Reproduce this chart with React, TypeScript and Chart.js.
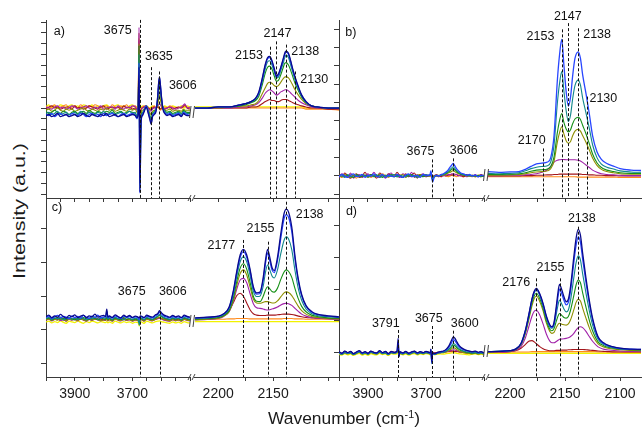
import React, { useEffect, useRef } from 'react';
import { Chart, registerables } from 'chart.js';

Chart.register(...registerables);

const FONT = '"Liberation Sans", Arial, Helvetica, sans-serif';
const AX = '#3a3a3a';

const COLORS: Record<string, string> = {
  navy: '#0a0a8c', blue: '#2846ff', teal: '#11878a', green: '#159015', olive: '#8f8f00',
  purple: '#a020a8', maroon: '#a3151b', orange: '#ff8a1c', yellow: '#f2f200',
};
const WIDTHS: Record<string, number> = {
  navy: 1.3, blue: 1.3, teal: 1.1, green: 1.1, olive: 1.1, purple: 1.1, maroon: 1.1, orange: 1.1, yellow: 1.3,
};

// ---------------- Panel a ----------------
const A1X = [4000,3990,3980,3970,3960,3950,3940,3930,3920,3910,3900,3890,3880,3870,3860,3850,3840,3830,3820,3810,3800,3790,3780,3770,3760,3750,3740,3730,3720,3710,3700,3690,
  3684,3680,3677,3674,3670,3665,3660,3652,3645,3640,3635,3630,3624,3618,3613,3609,3606,3603,3599,3594,3588,3580,3570,3560,3550,3540,3530,3522,3518,3510,3500];
const A1_NAVY = [-7,-6,-8,-7,-5,-8,-7,-6,-8,-7,-6,-8,-7,-5,-7,-8,-6,-7,-8,-6,-7,-5,-8,-7,-6,-8,-7,-6,-8,-7,-6,-7,
  -9,-5,38,-78,-13,-7,-4,1,-5,-10,-15,-8,-6,-3,8,23,29,22,10,-1,-5,-7,-6,-8,-7,-6,-8,-5,-6,-7,-7];
const A1_BLUE = [-6,-7,-5,-8,-6,-5,-7,-6,-8,-5,-6,-7,-5,-6,-8,-6,-5,-7,-6,-8,-5,-7,-6,-5,-7,-8,-6,-5,-7,-6,-5,-7,
  -10,-4,42,-79,-12,-6,-3,2,-4,-9,-14,-7,-5,-2,8,22,28,22,10,0,-4,-6,-5,-7,-6,-5,-7,-4,-5,-6,-7];
const A1_TEAL = [-5,-4,-6,-5,-3,-6,-5,-4,-6,-5,-4,-6,-3,-5,-6,-4,-5,-6,-4,-5,-3,-6,-5,-4,-6,-5,-4,-6,-5,-3,-5,-4,
  -8,-3,50,-75,-10,-5,-3,2,-3,-8,-12,-6,-4,-1,7,20,26,20,9,0,-3,-5,-4,-6,-5,-4,-6,-3,-4,-5,-5];
const A1_GREEN = [-3,-5,-4,-2,-4,-5,-3,-4,-6,-4,-3,-5,-4,-3,-5,-2,-4,-5,-3,-4,-5,-3,-4,-2,-5,-4,-3,-5,-4,-3,-4,-5,
  -7,-2,58,-70,-8,-4,-2,2,-3,-6,-10,-5,-3,-1,5,16,22,16,7,0,-2,-4,-3,-5,-4,-3,-5,-2,-3,-4,-4];
const A1_OLIVE = [-2,-1,-3,-2,0,-2,-3,-1,-2,-1,-3,-2,-1,0,-2,-3,-1,-2,-3,-1,-2,0,-2,-1,-3,-2,-1,-2,-3,-1,-2,-1,
  -4,-1,60,-60,-5,-2,-1,1,-2,-4,-6,-3,-2,-1,2,8,12,8,3,-1,-2,-2,-1,-3,-2,-2,-3,-1,-2,-2,-2];
const A1_PURPLE = [1,0,-1,1,2,0,1,-1,0,2,1,-1,0,1,2,0,-1,1,0,2,-1,0,1,1,-1,2,0,-1,1,0,2,1,
  -2,1,75,-50,-3,0,1,2,0,-2,-3,-1,0,1,2,3,4,3,1,0,-1,0,1,0,-1,0,1,3,4,0,1];
const A1_MAROON = [-1,1,2,0,1,-1,0,1,1,-1,2,0,1,-1,0,2,1,0,-1,1,2,-1,0,1,0,1,-1,2,0,1,-1,0,
  -1,1,70,-40,-2,0,1,2,0,-1,-2,0,1,0,1,1,0,-1,0,1,-1,0,1,-1,0,1,0,2,3,0,-1];
const A1_ORANGE = [2,0,1,3,0,1,2,3,0,1,2,0,3,1,0,2,1,3,2,0,1,2,0,3,1,0,2,1,3,0,1,2,
  0,1,63,-30,-1,1,2,1,0,-1,0,1,2,0,1,0,-1,-2,-1,0,1,0,2,1,0,1,0,1,2,1,0];
const A1_YELLOW = [1,3,0,2,1,3,2,0,2,3,1,2,0,3,2,1,3,0,2,1,2,3,1,0,2,3,1,2,0,2,3,1,
  1,2,65,-25,0,2,1,2,1,0,1,2,1,0,2,1,0,-1,0,1,2,1,0,2,1,0,2,1,0,2,1];

const A2X = [2221,2210,2200,2190,2180,2175,2170,2166,2163,2160,2157,2155,2153,2151,2149,2147,2145,2143,2141,2139,2138,2136,2134,2132,2130,2127,2124,2120,2115,2110,2100,2090];
const A2_NAVY = [0,0,1,1,3,4,6,9,15,27,41,47,48,44,37,30,32,38,45,52,53,51,44,36,29,20,12,6,2,1,0,0];
const A2_BLUE = [0,0,1,1,3,4,6,9,14,26,40,46,47,43,36,29,31,37,44,51,52,50,43,35,28,19,12,6,2,1,0,0];
const A2_TEAL = [0,0,1,1,3,4,6,8,13,24,37,43,44,40,34,28,29,35,41,48,49,47,40,33,26,18,11,5,2,1,0,0];
const A2_GREEN = [0,0,1,1,2,3,5,7,11,21,33,38,39,36,30,25,26,31,37,42,42,40,35,29,23,16,10,5,2,1,0,0];
const A2_OLIVE = [0,0,0,1,2,2,3,4,7,13,19,23,24,23,21,20,21,24,27,29,29,28,25,21,17,12,8,4,2,1,0,0];
const A2_PURPLE = [0,0,0,0,1,1,2,3,5,9,14,16,17,16,14,12,13,15,16,17,17,16,14,12,10,7,5,3,1,0,0,0];
const A2_MAROON = [0,0,0,0,0,0,1,1,2,4,6,7,8,7,7,6,6,7,8,8,8,7,6,5,4,3,2,1,0,0,-1,-1];
const A2_ORANGE = [0,0,0,0,0,0,0,0,0,0,0,0,0,0,0,0,0,0,0,0,0,0,0,0,0,0,0,-1,-1,-1,-1,-2];
const A2_YELLOW = [1,1,1,1,1,1,1,1,1,1,1,1,1,1,1,1,1,1,1,1,1,1,1,1,1,1,1,0,0,0,0,0];

// ---------------- Panel b ----------------
const B1X = [4000,3990,3980,3970,3960,3950,3940,3930,3920,3910,3900,3890,3880,3870,3860,3850,3840,3830,3820,3810,3800,3790,3780,3770,3760,3750,3740,3730,3720,3710,3700,
  3692,3686,3683,3680,3677,3672,3664,3656,3648,3640,3632,3624,3617,3611,3606,3601,3595,3588,3580,3570,3560,3550,3540,3530,3520,3510,3500];
const B1_BLUE = [-2,4,0,-4,2,6,-2,0,4,-4,2,0,6,-2,0,4,-4,2,0,-2,4,0,-4,2,6,-2,0,2,-4,4,2,
  2,4,14,-6,-16,-4,2,0,4,6,10,16,24,30,34,28,20,14,8,6,2,4,0,2,-2,2,0];
const B1_TEAL = [2,0,-4,4,-2,0,2,-2,4,0,-2,2,0,4,-4,0,2,-2,0,4,-2,2,0,-2,4,0,2,-4,0,2,0,
  0,2,10,-4,-12,-2,2,0,2,4,8,12,18,22,25,21,15,10,6,4,2,2,0,2,-2,0,2];
const B1_GREEN = [0,4,-2,2,0,-4,4,0,-2,2,0,4,-2,0,2,-4,2,0,4,-2,2,0,-4,2,0,4,-2,0,2,-2,4,
  2,2,8,-2,-10,-2,0,2,2,4,6,10,14,18,20,17,12,8,5,2,2,0,2,0,2,-2,0];
const B1_OLIVE = [2,-2,4,0,-4,2,0,-2,4,2,-4,0,2,-2,4,0,-2,2,0,4,-2,0,4,-4,2,0,-2,2,4,0,2,
  0,2,6,-2,-8,0,2,0,2,2,4,8,10,13,15,12,9,6,4,2,0,2,0,-2,2,0,2];
const B1_PURPLE = [-4,6,0,-2,8,-6,2,4,-4,0,6,-2,10,0,-4,2,-6,4,8,-2,0,-4,6,2,-2,10,-4,0,2,6,0,
  2,0,4,0,-4,2,0,-2,4,0,2,4,4,6,6,5,4,2,0,4,-2,2,0,4,-2,2,0];
const B1_MAROON = [4,-2,8,0,-6,2,6,-4,0,10,-2,4,0,-6,8,2,-4,6,0,-2,10,0,-4,6,-2,2,8,-6,4,0,-2,
  0,2,2,0,-2,0,4,0,-2,2,0,2,3,3,3,2,4,0,2,-2,4,0,2,-2,0,4,0];
const B1_ORANGE = [0,-4,2,-2,4,0,-6,2,-2,0,4,-4,0,2,-2,6,0,-4,2,0,-2,4,-4,0,2,-2,0,4,-2,2,0,
  0,-2,0,2,-2,0,2,-2,0,2,0,-2,0,2,0,0,-2,2,0,-2,0,2,-2,0,2,-2,0];

const B2X = [2220,2210,2200,2192,2186,2181,2176,2171,2166,2163,2160,2157,2155,2153,2151,2149,2147,2145,2143,2141,2138,2136,2134,2131,2128,2125,2121,2117,2112,2106,2100,2090,2081];
const B2_BLUE = [12,10,11,12,18,26,33,35,38,50,110,260,330,372,300,230,190,215,275,320,338,320,275,225,170,110,66,45,34,27,20,16,15];
const B2_TEAL = [7,6,7,9,14,20,24,26,28,38,84,198,252,284,230,178,148,166,212,246,261,247,212,172,130,85,50,32,24,19,14,11,10];
const B2_GREEN = [4,4,5,6,9,13,16,17,19,26,52,118,151,170,145,128,120,126,143,155,160,154,138,115,88,60,36,23,16,12,9,7,7];
const B2_OLIVE = [2,2,3,4,6,9,11,12,14,20,40,92,118,134,114,96,89,94,110,122,127,122,110,92,71,49,29,18,12,9,6,5,5];
const B2_PURPLE = [1,1,2,2,3,4,6,10,17,26,38,43,44,45,45,44,44,44,44,44,43,41,37,30,23,16,10,6,4,3,2,1,1];
const B2_MAROON = [0,0,0,0,1,1,2,2,3,3,4,4,5,5,5,5,5,5,5,5,5,5,4,4,3,3,2,2,1,1,0,0,0];
const B2_ORANGE = [-2,-2,-2,-2,-2,-2,-2,-2,-2,-2,-2,-2,-2,-2,-2,-2,-2,-2,-2,-2,-3,-3,-3,-3,-3,-3,-3,-3,-3,-3,-4,-4,-4];

// ---------------- Panel c ----------------
const C1X = [4000,3990,3980,3970,3960,3950,3940,3930,3920,3910,3900,3890,3880,3870,3860,3850,3840,3830,3820,3810,3800,3793,3789,3785,3780,3770,3760,3750,3740,3730,3720,3710,3700,3690,
  3680,3676,3672,3666,3660,3650,3640,3630,3620,3612,3606,3600,3590,3580,3570,3560,3550,3540,3530,3520,3510,3500];
const C1_NAVY = [40,44,36,42,38,46,40,35,43,39,45,37,41,44,36,42,39,47,38,41,43,40,62,38,42,37,45,40,36,44,39,43,37,41,
  38,36,42,40,37,44,40,38,45,48,57,52,44,41,38,43,39,42,37,44,40,38];
const C1_BLUE = [37,41,34,39,43,36,40,38,33,42,37,40,35,43,38,34,41,37,44,36,39,38,55,36,40,35,42,38,34,41,37,40,36,39,
  36,30,40,38,35,41,38,36,42,46,52,48,41,38,36,40,37,39,35,41,38,36];
const C1_TEAL = [34,37,31,36,33,38,30,35,37,32,36,31,38,34,30,36,33,39,32,35,37,34,40,33,36,31,38,33,35,30,37,34,32,35,
  30,14,36,34,31,37,34,32,38,41,46,42,37,34,32,36,33,35,31,37,34,32];
const C1_GREEN = [33,36,30,34,37,32,35,31,36,33,30,35,32,37,33,31,36,34,30,35,33,32,38,31,35,30,36,33,31,37,32,34,30,33,
  31,22,35,33,30,36,33,31,36,40,44,40,35,33,31,35,32,34,30,36,33,31];
const C1_OLIVE = [30,33,28,32,29,34,31,27,33,30,32,28,34,30,27,32,29,33,31,28,30,29,33,28,31,27,33,30,28,32,29,31,27,30,
  28,24,32,30,27,33,30,28,32,35,38,35,31,29,27,31,28,30,27,32,29,28];
const C1_PURPLE = [29,32,27,31,34,28,30,26,32,29,31,27,33,29,26,31,28,32,30,27,29,28,31,27,30,26,32,29,27,31,28,30,26,29,
  27,25,31,29,26,32,29,27,31,33,35,33,29,27,26,30,27,29,26,31,28,27];
const C1_MAROON = [32,35,30,34,31,37,33,29,35,32,34,30,36,32,29,34,31,35,33,30,32,31,34,30,33,29,35,32,30,34,31,33,29,32,
  30,28,34,32,29,35,32,30,34,35,36,34,32,30,29,33,30,32,29,34,31,30];
const C1_ORANGE = [31,34,29,33,36,30,32,28,34,31,33,29,35,31,28,33,30,34,32,29,31,30,33,29,32,28,34,31,29,33,30,32,28,31,
  30,27,33,31,28,34,31,29,33,34,35,33,31,29,28,32,29,31,28,33,30,29];
const C1_YELLOW = [24,26,21,25,22,27,23,20,26,24,22,27,23,20,25,22,26,24,21,25,23,22,25,21,24,20,26,23,21,25,22,24,20,23,
  22,12,25,23,20,26,23,21,25,26,27,25,23,21,20,24,21,23,20,25,22,21];

const C2X = [2221,2210,2200,2195,2190,2186,2183,2180,2177,2174,2171,2168,2165,2162,2159,2157,2155,2153,2151,2149,2146,2143,2140,2138,2136,2133,2130,2127,2124,2120,2115,2110,2100,2090];
const C2_NAVY = [36,38,41,48,68,119,175,222,239,222,180,128,110,112,155,205,239,215,185,176,215,285,345,358,350,305,217,150,105,72,55,47,42,39];
const C2_BLUE = [35,37,40,47,66,115,170,215,232,215,175,124,106,108,148,196,228,205,178,170,206,272,330,342,335,292,208,144,101,70,53,46,41,38];
const C2_TEAL = [34,36,39,45,63,108,160,202,217,202,162,115,99,100,130,170,193,178,160,154,178,226,266,276,270,238,175,122,88,62,49,43,39,37];
const C2_GREEN = [32,34,37,43,58,98,145,183,196,180,142,100,85,84,100,118,128,122,114,112,124,150,172,178,174,156,122,92,70,54,44,40,36,35];
const C2_OLIVE = [30,32,35,41,55,90,133,167,178,163,128,92,80,79,82,84,84,82,80,80,86,98,110,113,111,102,86,70,57,47,40,37,34,33];
const C2_PURPLE = [30,31,34,40,54,86,122,148,153,140,108,78,66,64,62,60,59,60,62,64,68,74,78,79,78,73,64,55,47,41,37,35,33,32];
const C2_MAROON = [33,34,36,42,58,82,102,109,100,80,60,48,44,43,43,43,44,44,44,44,45,46,47,47,47,46,44,41,39,37,36,35,34,33];
const C2_ORANGE = [32,32,32,32,33,33,34,34,34,34,33,33,33,33,33,33,33,33,33,33,33,33,34,34,34,34,33,33,33,32,32,32,32,32];
const C2_YELLOW = [25,25,25,25,25,25,25,25,25,25,25,25,25,25,25,25,25,25,25,25,25,25,25,25,25,25,25,25,25,25,25,25,25,25];

// ---------------- Panel d ----------------
const D1X = [4000,3990,3980,3970,3960,3950,3940,3930,3920,3910,3900,3890,3880,3870,3860,3850,3840,3830,3820,3810,3800,3796,3793,3790,3780,3770,3760,3750,3740,3730,3720,3710,3700,3690,
  3686,3683,3680,3677,3670,3660,3650,3640,3630,3620,3612,3606,3600,3594,3588,3580,3570,3560,3550,3540,3530,3520,3510,3500];
const D1_NAVY = [2,-3,4,-1,3,-4,1,5,-2,2,-3,4,0,-2,5,-1,3,-4,2,0,4,44,-14,2,-2,3,-3,1,4,-2,2,-1,3,0,
  -2,10,-30,-3,-4,0,2,4,10,22,38,49,44,34,24,16,10,6,4,2,4,0,2,-2];
const D1_BLUE = [0,-4,3,-2,2,-5,0,4,-3,1,-4,3,-1,-3,4,-2,2,-5,1,-1,3,30,-10,1,-3,2,-4,0,3,-3,1,-2,2,-1,
  -3,8,-34,-2,-5,-1,1,3,8,18,30,40,36,28,20,13,8,5,3,1,3,-1,1,-3];
const D1_TEAL = [-3,-6,-1,-4,-2,-7,-3,1,-5,-2,-6,0,-3,-5,1,-4,-2,-7,-1,-3,0,22,-12,-2,-5,-1,-6,-3,0,-5,-2,-4,-1,-3,
  -5,5,-36,-4,-7,-3,-1,0,4,12,20,28,25,19,13,8,4,1,0,-2,0,-4,-2,-5];
const D1_GREEN = [-2,-5,0,-3,-1,-6,-2,2,-4,-1,-5,1,-2,-4,2,-3,-1,-6,0,-2,1,15,-8,-1,-4,0,-5,-2,1,-4,-1,-3,0,-2,
  -4,4,-24,-3,-6,-2,0,1,4,10,17,23,20,15,10,6,3,0,-1,-3,-1,-3,-1,-4];
const D1_OLIVE = [-4,-7,-2,-5,-3,-8,-4,0,-6,-3,-7,-1,-4,-6,0,-5,-3,-8,-2,-4,-1,8,-9,-3,-6,-2,-7,-4,-1,-6,-3,-5,-2,-4,
  -6,2,-18,-5,-7,-4,-2,-1,2,6,11,15,13,9,5,2,-1,-3,-4,-5,-3,-6,-4,-6];
const D1_PURPLE = [-2,-5,1,-3,0,-6,-2,2,-4,-1,-5,1,-3,-4,2,-3,0,-6,1,-2,0,5,-6,-1,-4,0,-5,-2,1,-4,-1,-3,0,-2,
  -3,2,-10,-2,-4,-2,-1,0,2,4,6,8,7,5,3,1,0,-2,-3,-2,-1,-3,-2,-4];
const D1_MAROON = [0,-3,3,-1,2,-4,0,4,-2,1,-3,3,-1,-2,4,-1,2,-4,3,0,2,4,-3,1,-2,2,-3,0,3,-2,1,-1,2,0,
  -1,3,-6,0,-2,0,1,0,2,3,4,4,3,3,2,1,0,-1,-2,0,1,-1,0,-2];
const D1_ORANGE = [-1,-4,2,-2,1,-5,-1,3,-3,0,-4,2,-2,-3,3,-2,1,-5,2,-1,1,2,-2,0,-3,1,-4,-1,2,-3,0,-2,1,-1,
  -2,2,-4,-1,-3,-1,0,-1,1,2,2,3,2,2,1,0,-1,-2,-3,-1,0,-2,-1,-3];
const D1_YELLOW = [-6,-9,-4,-8,-5,-10,-6,-3,-9,-6,-10,-4,-7,-8,-3,-7,-5,-10,-4,-6,-5,-4,-8,-6,-8,-5,-9,-6,-4,-8,-5,-7,-4,-6,
  -7,-3,-10,-6,-8,-6,-5,-6,-4,-3,-2,-1,-2,-3,-4,-5,-6,-7,-8,-6,-5,-7,-6,-8];

const D2X = [2220,2210,2200,2195,2190,2186,2183,2180,2178,2176,2173,2170,2167,2164,2162,2160,2158,2156,2155,2153,2151,2149,2147,2145,2142,2140,2138,2136,2134,2131,2128,2125,2120,2115,2110,2100,2090,2081];
const D2_NAVY = [2,3,5,10,28,70,118,170,193,202,185,155,115,88,81,95,144,200,215,198,176,160,168,208,303,360,389,370,313,235,165,108,49,30,21,13,10,9];
const D2_BLUE = [2,3,5,10,28,69,116,168,191,200,183,152,112,85,79,91,135,185,200,185,165,150,158,195,285,338,365,348,295,222,156,102,46,28,20,12,10,9];
const D2_TEAL = [2,3,5,10,27,67,113,165,188,197,180,148,108,81,76,86,120,156,165,153,137,128,134,165,237,283,305,292,248,187,132,87,41,25,18,11,9,8];
const D2_GREEN = [2,3,5,9,26,64,108,157,179,187,170,140,100,74,68,75,98,118,123,117,110,108,113,133,180,213,229,220,188,143,102,68,33,21,15,10,8,7];
const D2_OLIVE = [1,2,4,8,24,60,102,148,170,178,161,132,93,67,60,63,78,90,92,89,87,86,90,103,135,158,168,162,140,108,78,53,27,17,12,8,6,5];
const D2_PURPLE = [1,1,3,6,18,46,80,115,130,133,118,90,58,36,30,30,34,39,41,42,43,44,46,50,60,70,78,81,78,66,50,35,17,10,7,4,3,3];
const D2_MAROON = [0,1,2,5,13,25,35,37,33,27,18,11,7,5,5,5,6,6,6,7,7,7,8,8,9,9,9,9,9,8,7,6,4,3,2,1,1,1];
const D2_ORANGE = [0,0,1,1,1,1,1,2,2,2,2,2,2,2,2,2,2,2,2,2,2,2,2,2,2,2,2,2,2,2,2,2,1,1,1,1,0,0];
const D2_YELLOW = [-3,-3,-3,-3,-3,-3,-3,-3,-3,-3,-3,-3,-3,-3,-3,-3,-3,-3,-3,-3,-3,-3,-3,-3,-3,-3,-3,-3,-3,-3,-3,-3,-3,-3,-3,-3,-3,-3];

// ---------------- annotations (peak positions / label anchors in data units) ----------------
type Mark = [string, number, number];
type Txt = [string, string, number, number];

const A_MARKS: Mark[] = [['s1', 3675, 82], ['s1', 3635, 38], ['s1', 3606, 34], ['s2', 2153, 57], ['s2', 2147, 62], ['s2', 2138, 59], ['s2', 2130, 34]];
const A_TEXTS: Txt[] = [['a)', 's1', 3954, 71.6], ['3675', 's1', 3751, 72], ['3635', 's1', 3608, 48], ['3606', 's1', 3525, 21],
  ['2153', 's2', 2172, 49], ['2147', 's2', 2146, 69.5], ['2138', 's2', 2120.7, 53], ['2130', 's2', 2112.6, 26.5]];
const B_MARKS: Mark[] = [['s2', 2147, 416], ['s2', 2153, 399], ['s2', 2138, 402], ['s2', 2130, 216], ['s2', 2170, 75], ['s1', 3680, 45], ['s1', 3608, 48]];
const B_TEXTS: Txt[] = [['b)', 's1', 3959, 390], ['2147', 's2', 2147.5, 432.6], ['2153', 's2', 2172.3, 379], ['2138', 's2', 2120.9, 384.5],
  ['2130', 's2', 2115.2, 209.5], ['2170', 's2', 2180.3, 97], ['3675', 's1', 3719, 66], ['3606', 's1', 3570, 69]];
const C_MARKS: Mark[] = [['s2', 2177, 266.7], ['s2', 2155, 261.6], ['s2', 2138, 380], ['s1', 3675, 84], ['s1', 3605, 84]];
const C_TEXTS: Txt[] = [['c)', 's1', 3962, 364], ['2177', 's2', 2197.1, 251], ['2155', 's2', 2161.5, 300], ['2138', 's2', 2116.7, 341.6],
  ['3675', 's1', 3702.4, 112.6], ['3606', 's1', 3559.7, 112.6]];
const D_MARKS: Mark[] = [['s2', 2138, 397.5], ['s2', 2155, 234], ['s2', 2176, 234], ['s1', 3795, 70.6], ['s1', 3680, 83.2], ['s1', 3606, 68.4]];
const D_TEXTS: Txt[] = [['d)', 's1', 3957, 445], ['2138', 's2', 2134.8, 422.8], ['2155', 's2', 2163.2, 269.3], ['2176', 's2', 2194.4, 220],
  ['3791', 's1', 3838.6, 91.8], ['3675', 's1', 3690.3, 106.3], ['3600', 's1', 3566.6, 90.5]];

const LAB1 = [3900, 3700];
const LAB2 = [2200, 2150, 2100];

interface PanelCfg {
  left: number; top: number; width: number; height: number;
  padTop: number; padRight: number; xh: number;
  s1: [number, number]; s2: [number, number]; w: [number, number, number];
  y: [number, number, number];
  x1: number[]; x2: number[];
  series: [string, number[], number[]][];
  marks: Mark[]; texts: Txt[]; breakY: number;
  labels: boolean;
}

const PANELS: PanelCfg[] = [
  {
    left: 40, top: 0, width: 299, height: 204, padTop: 20, padRight: 0, xh: 6,
    s1: [3500, 4000], s2: [2090, 2222], w: [144, 4, 145], y: [-83.7, 81.9, 10],
    x1: A1X, x2: A2X,
    series: [['navy', A1_NAVY, A2_NAVY], ['blue', A1_BLUE, A2_BLUE], ['teal', A1_TEAL, A2_TEAL], ['green', A1_GREEN, A2_GREEN],
      ['olive', A1_OLIVE, A2_OLIVE], ['purple', A1_PURPLE, A2_PURPLE], ['maroon', A1_MAROON, A2_MAROON], ['orange', A1_ORANGE, A2_ORANGE], ['yellow', A1_YELLOW, A2_YELLOW]],
    marks: A_MARKS, texts: A_TEXTS, breakY: -3.7, labels: false,
  },
  {
    left: 333, top: 0, width: 310, height: 204, padTop: 20, padRight: 2, xh: 6,
    s1: [3500, 4000], s2: [2081, 2220], w: [145, 4, 153], y: [-59.9, 424.5, 50],
    x1: B1X, x2: B2X,
    series: [['blue', B1_BLUE, B2_BLUE], ['teal', B1_TEAL, B2_TEAL], ['green', B1_GREEN, B2_GREEN], ['olive', B1_OLIVE, B2_OLIVE],
      ['purple', B1_PURPLE, B2_PURPLE], ['maroon', B1_MAROON, B2_MAROON], ['orange', B1_ORANGE, B2_ORANGE]],
    marks: B_MARKS, texts: B_TEXTS, breakY: 2.7, labels: false,
  },
  {
    left: 40, top: 198, width: 299, height: 232, padTop: 0, padRight: 0, xh: 53,
    s1: [3500, 4000], s2: [2090, 2222], w: [144, 4, 145], y: [-139.3, 391, 100],
    x1: C1X, x2: C2X,
    series: [['navy', C1_NAVY, C2_NAVY], ['blue', C1_BLUE, C2_BLUE], ['teal', C1_TEAL, C2_TEAL], ['green', C1_GREEN, C2_GREEN],
      ['olive', C1_OLIVE, C2_OLIVE], ['purple', C1_PURPLE, C2_PURPLE], ['maroon', C1_MAROON, C2_MAROON], ['orange', C1_ORANGE, C2_ORANGE], ['yellow', C1_YELLOW, C2_YELLOW]],
    marks: C_MARKS, texts: C_TEXTS, breakY: 26.7, labels: true,
  },
  {
    left: 333, top: 198, width: 310, height: 232, padTop: 0, padRight: 2, xh: 53,
    s1: [3500, 4000], s2: [2081, 2220], w: [145, 4, 153], y: [-78.2, 488.3, 100],
    x1: D1X, x2: D2X,
    series: [['navy', D1_NAVY, D2_NAVY], ['blue', D1_BLUE, D2_BLUE], ['teal', D1_TEAL, D2_TEAL], ['green', D1_GREEN, D2_GREEN],
      ['olive', D1_OLIVE, D2_OLIVE], ['purple', D1_PURPLE, D2_PURPLE], ['maroon', D1_MAROON, D2_MAROON], ['orange', D1_ORANGE, D2_ORANGE], ['yellow', D1_YELLOW, D2_YELLOW]],
    marks: D_MARKS, texts: D_TEXTS, breakY: 4.1, labels: true,
  },
];

function PanelChart({ cfg }: { cfg: PanelCfg }) {
  const ref = useRef<HTMLCanvasElement>(null);
  useEffect(() => {
    const canvas = ref.current;
    if (!canvas) return;
    const datasets: any[] = [];
    cfg.series.forEach(([name, y1, y2]) => {
      const common = {
        yAxisID: 'y', borderColor: COLORS[name], borderWidth: WIDTHS[name], pointRadius: 0,
        cubicInterpolationMode: 'monotone', fill: false,
      };
      datasets.push({ ...common, xAxisID: 's1', data: cfg.x1.map((x, i) => ({ x, y: y1[i] })) });
      datasets.push({ ...common, xAxisID: 's2', data: cfg.x2.map((x, i) => ({ x, y: y2[i] })) });
    });

    const fitX = (s: any) => { s.height = cfg.xh; s.paddingLeft = 0; s.paddingRight = 0; };
    const segScale = (range: [number, number], weight: number, order: number, step: number, labels: number[]) => ({
      type: 'linear', axis: 'x', position: 'bottom', stack: 'bx', stackWeight: weight, weight: order,
      min: range[0], max: range[1], reverse: true,
      border: { display: true, color: AX, width: 1 },
      grid: { display: true, drawOnChartArea: false, drawTicks: true, tickLength: 4, color: AX, lineWidth: 1 },
      ticks: {
        display: cfg.labels, stepSize: step, autoSkip: false, includeBounds: false, maxRotation: 0, minRotation: 0,
        padding: 5, color: '#1a1a1a', font: { family: FONT, size: 14 },
        callback: (v: any) => (labels.includes(Number(v)) ? String(v) : ''),
      },
      afterFit: fitX,
    });

    const annot = {
      id: 'annot',
      afterDatasetsDraw(chart: any) {
        const ctx = chart.ctx as CanvasRenderingContext2D;
        const ys = chart.scales.y;
        const a = chart.chartArea;
        ctx.save();
        ctx.strokeStyle = '#111';
        ctx.lineWidth = 1;
        ctx.setLineDash([3, 2]);
        for (const [ax, x, top] of cfg.marks) {
          const px = Math.round(chart.scales[ax].getPixelForValue(x)) + 0.5;
          ctx.beginPath();
          ctx.moveTo(px, ys.getPixelForValue(top));
          ctx.lineTo(px, a.bottom);
          ctx.stroke();
        }
        ctx.setLineDash([]);
        ctx.fillStyle = '#111';
        ctx.font = `12.5px ${FONT}`;
        ctx.textAlign = 'center';
        ctx.textBaseline = 'middle';
        for (const [t, ax, x, y] of cfg.texts) {
          ctx.fillText(t, chart.scales[ax].getPixelForValue(x), ys.getPixelForValue(y));
        }
        const g = chart.scales.gap;
        const xc = (g.left + g.right) / 2;
        const yc = ys.getPixelForValue(cfg.breakY);
        ctx.strokeStyle = '#444';
        ctx.beginPath();
        ctx.moveTo(xc - 2.5, yc + 6); ctx.lineTo(xc - 1, yc - 6);
        ctx.moveTo(xc + 1, yc + 6); ctx.lineTo(xc + 2.5, yc - 6);
        ctx.stroke();
        const yb = a.bottom;
        ctx.beginPath();
        ctx.moveTo(xc - 4, yb + 3); ctx.lineTo(xc - 1, yb - 3);
        ctx.moveTo(xc, yb + 3); ctx.lineTo(xc + 3, yb - 3);
        ctx.stroke();
        ctx.restore();
      },
    };

    const chart = new Chart(canvas, {
      type: 'line',
      data: { datasets },
      options: {
        responsive: false, maintainAspectRatio: false, animation: false, devicePixelRatio: 1,
        layout: { padding: { top: cfg.padTop, right: cfg.padRight, left: 0, bottom: 0 } },
        plugins: { legend: { display: false }, tooltip: { enabled: false }, title: { display: false } },
        elements: { line: { tension: 0.4 } },
        scales: {
          s1: segScale(cfg.s1, cfg.w[0], 1, 50, LAB1),
          gap: {
            type: 'linear', axis: 'x', position: 'bottom', stack: 'bx', stackWeight: cfg.w[1], weight: 2,
            min: 0, max: 1, border: { display: false }, grid: { display: false }, ticks: { display: false }, afterFit: fitX,
          },
          s2: segScale(cfg.s2, cfg.w[2], 3, 25, LAB2.filter((v) => v > cfg.s2[0] + 12)),
          y: {
            type: 'linear', position: 'left', min: cfg.y[0], max: cfg.y[1],
            border: { display: true, color: AX, width: 1 },
            grid: { display: true, drawOnChartArea: false, drawTicks: true, tickLength: 5, color: AX },
            ticks: { display: false, stepSize: cfg.y[2], includeBounds: false },
            afterFit: (s: any) => { s.width = 6; s.paddingTop = 0; s.paddingBottom = 0; },
          },
        } as any,
      } as any,
      plugins: [annot],
    });
    return () => chart.destroy();
  }, [cfg]);
  return (
    <canvas
      ref={ref}
      width={cfg.width}
      height={cfg.height}
      style={{ position: 'absolute', left: cfg.left, top: cfg.top, width: cfg.width, height: cfg.height }}
    />
  );
}

export default function App() {
  return (
    <div style={{ position: 'absolute', left: 0, top: 0, width: 643, height: 430, background: '#fff', overflow: 'hidden', fontFamily: FONT }}>
      {PANELS.map((p, i) => <PanelChart key={i} cfg={p} />)}
      <div style={{ position: 'absolute', left: 19, top: 211, transform: 'translate(-50%, -50%) rotate(-90deg) scaleX(1.3)', fontSize: 16.5, lineHeight: 1, whiteSpace: 'nowrap', color: '#1a1a1a' }}>
        Intensity (a.u.)
      </div>
      <div style={{ position: 'absolute', left: 344, top: 419, transform: 'translate(-50%, -50%)', fontSize: 17.4, lineHeight: 1, whiteSpace: 'nowrap', color: '#1a1a1a' }}>
        Wavenumber (cm<span style={{ fontSize: '0.62em', position: 'relative', top: '-0.55em' }}>-1</span>)
      </div>
    </div>
  );
}
